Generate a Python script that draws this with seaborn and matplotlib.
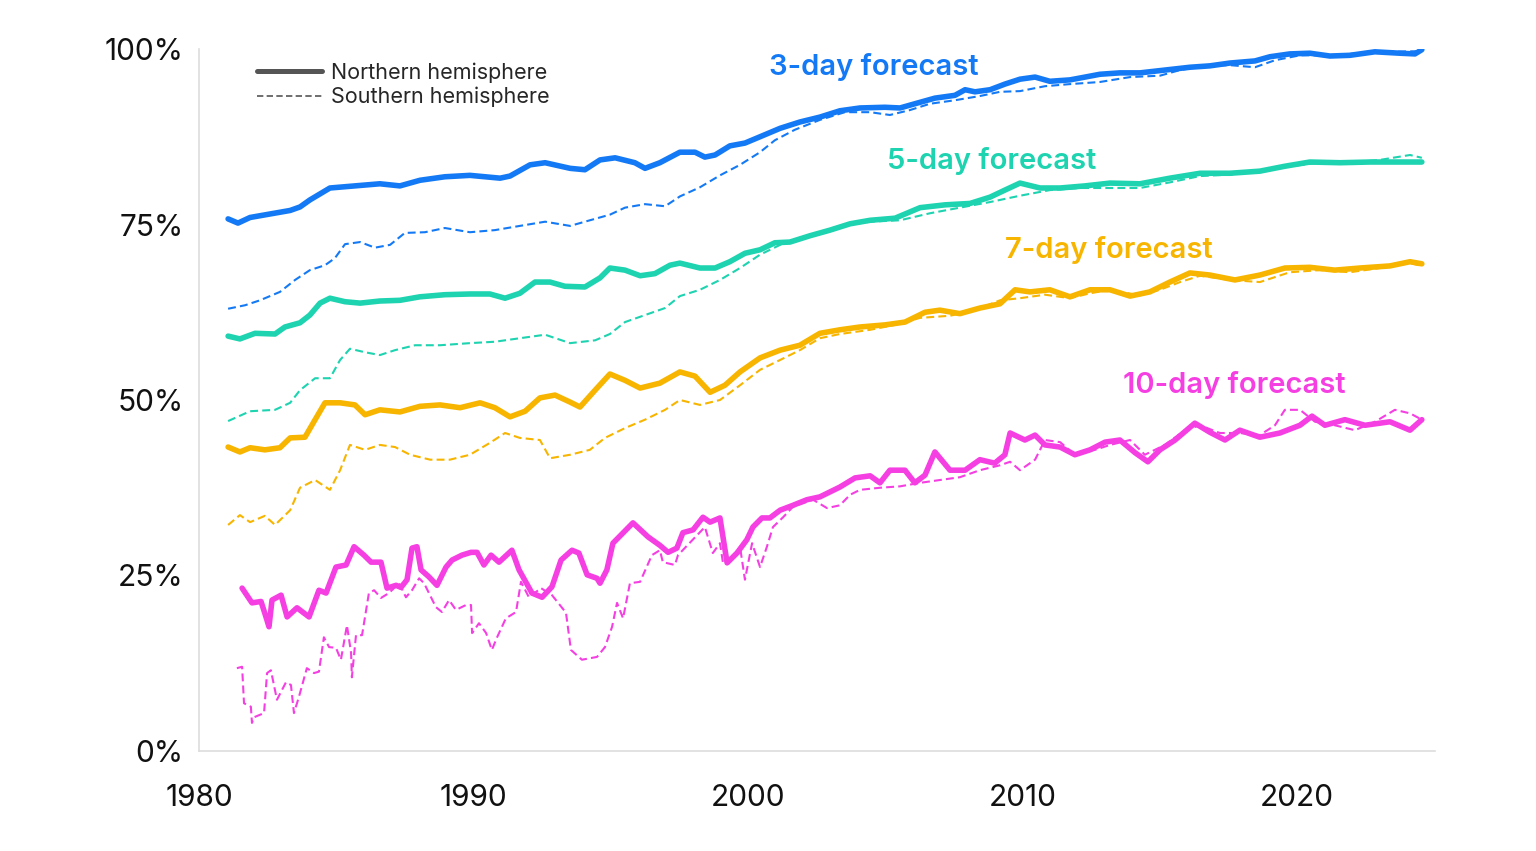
import numpy as np
import pandas as pd
import matplotlib
matplotlib.use("Agg")
import matplotlib.pyplot as plt
from matplotlib.lines import Line2D
import seaborn as sns

# ---------------- data: (year, % skill) ----------------
d3_nh = [(1981.06,75.8),(1981.42,75.2),(1981.86,76.0),(1982.59,76.5),(1983.32,77.0),(1983.68,77.5),(1984.04,78.5),(1984.77,80.2),(1985.68,80.5),(1986.59,80.8),(1987.32,80.5),(1988.05,81.3),(1988.96,81.8),(1989.87,82.0),(1990.97,81.6),(1991.33,81.9),(1992.06,83.5),(1992.61,83.8),(1993.52,83.0),(1994.06,82.8),(1994.61,84.2),(1995.16,84.5),(1995.88,83.8),(1996.25,83.0),(1996.79,83.8),(1997.52,85.3),(1998.07,85.3),(1998.43,84.6),(1998.80,84.9),(1999.34,86.2),(1999.89,86.6),(2000.44,87.5),(2001.17,88.7),(2001.89,89.6),(2002.62,90.3),(2003.35,91.2),(2004.08,91.6),(2004.99,91.7),(2005.54,91.6),(2006.08,92.2),(2006.81,93.0),(2007.54,93.4),(2007.91,94.2),(2008.27,93.9),(2008.82,94.2),(2009.36,95.0),(2009.91,95.7),(2010.46,96.0),(2011.00,95.4),(2011.73,95.6),(2012.28,96.0),(2012.82,96.4),(2013.55,96.6),(2014.28,96.6),(2015.19,97.0),(2016.10,97.4),(2016.83,97.6),(2017.56,98.0),(2018.47,98.3),(2019.02,98.9),(2019.74,99.3),(2020.47,99.4),(2021.20,99.0),(2021.93,99.1),(2022.84,99.6),(2023.75,99.4),(2024.30,99.3),(2024.55,99.9)]

d3_sh = [(1981.06,63.0),(1981.68,63.5),(1982.22,64.2),(1982.95,65.4),(1983.50,67.1),(1984.04,68.5),(1984.59,69.2),(1984.95,70.2),(1985.32,72.2),(1985.87,72.5),(1986.41,71.7),(1986.96,72.1),(1987.50,73.8),(1988.23,73.9),(1988.96,74.5),(1989.87,73.9),(1990.78,74.2),(1991.69,74.8),(1992.61,75.4),(1993.52,74.8),(1994.24,75.6),(1994.97,76.4),(1995.52,77.4),(1996.25,77.9),(1996.98,77.6),(1997.52,79.0),(1998.25,80.3),(1998.98,82.0),(1999.71,83.5),(2000.44,85.3),(2000.98,87.0),(2001.71,88.5),(2002.62,89.9),(2003.53,91.0),(2004.45,91.0),(2005.17,90.6),(2005.90,91.3),(2006.63,92.2),(2007.54,92.7),(2008.45,93.3),(2009.18,93.9),(2009.91,94.0),(2010.82,94.7),(2011.73,95.0),(2012.82,95.3),(2013.92,96.0),(2015.01,96.2),(2015.74,97.0),(2016.65,97.6),(2017.56,97.7),(2018.47,97.4),(2019.20,98.4),(2020.11,99.1),(2021.20,99.1),(2022.29,99.4),(2023.39,99.6),(2024.55,99.7)]

d5_nh = [(1981.06,59.1),(1981.49,58.7),(1982.04,59.5),(1982.77,59.4),(1983.13,60.4),(1983.68,61.0),(1984.04,62.1),(1984.41,63.8),(1984.77,64.5),(1985.32,64.0),(1985.87,63.8),(1986.59,64.1),(1987.32,64.2),(1988.05,64.7),(1988.96,65.0),(1989.87,65.1),(1990.60,65.1),(1991.15,64.5),(1991.69,65.2),(1992.24,66.8),(1992.79,66.8),(1993.33,66.2),(1994.06,66.1),(1994.61,67.4),(1994.97,68.8),(1995.52,68.5),(1996.07,67.7),(1996.61,68.0),(1997.16,69.2),(1997.52,69.5),(1998.25,68.8),(1998.80,68.8),(1999.34,69.7),(1999.89,70.9),(2000.44,71.4),(2000.98,72.4),(2001.53,72.5),(2002.26,73.4),(2002.99,74.2),(2003.72,75.1),(2004.45,75.6),(2005.36,75.9),(2006.27,77.4),(2007.18,77.8),(2008.09,78.0),(2008.82,78.9),(2009.36,79.9),(2009.91,80.9),(2010.64,80.2),(2011.37,80.2),(2012.28,80.5),(2013.19,80.9),(2014.28,80.8),(2015.37,81.6),(2016.47,82.3),(2017.56,82.3),(2018.65,82.6),(2019.56,83.3),(2020.47,83.9),(2021.57,83.8),(2022.66,83.9),(2023.75,83.9),(2024.55,83.9)]

d5_sh = [(1981.06,47.0),(1981.86,48.4),(1982.77,48.6),(1983.32,49.6),(1983.68,51.4),(1984.23,53.1),(1984.77,53.1),(1985.14,55.7),(1985.50,57.3),(1986.05,56.8),(1986.59,56.4),(1987.14,57.1),(1987.87,57.8),(1988.78,57.8),(1989.87,58.1),(1990.78,58.3),(1991.69,58.8),(1992.61,59.3),(1993.52,58.1),(1994.43,58.5),(1994.97,59.4),(1995.52,61.1),(1996.25,62.1),(1996.98,63.1),(1997.52,64.8),(1998.25,65.7),(1998.98,67.1),(1999.71,68.8),(2000.44,70.7),(2001.17,72.1),(2001.89,73.1),(2002.62,73.9),(2003.35,74.8),(2004.45,75.4),(2005.54,75.6),(2006.63,76.6),(2007.72,77.4),(2008.82,78.2),(2009.91,79.1),(2011.00,79.9),(2012.10,80.2),(2013.19,80.2),(2014.28,80.2),(2015.37,81.0),(2016.47,81.9),(2017.56,82.1),(2018.65,82.5),(2019.74,83.3),(2020.84,83.8),(2021.93,83.8),(2023.02,84.2),(2024.12,84.9),(2024.55,84.5)]

d7_nh = [(1981.06,43.3),(1981.49,42.6),(1981.86,43.2),(1982.40,42.9),(1982.95,43.2),(1983.32,44.6),(1983.86,44.7),(1984.23,47.2),(1984.59,49.6),(1985.14,49.6),(1985.68,49.3),(1986.05,47.9),(1986.59,48.6),(1987.32,48.3),(1988.05,49.1),(1988.78,49.3),(1989.51,48.9),(1990.24,49.6),(1990.78,48.9),(1991.33,47.6),(1991.88,48.4),(1992.42,50.3),(1992.97,50.7),(1993.52,49.7),(1993.88,49.0),(1994.43,51.4),(1994.97,53.7),(1995.52,52.8),(1996.07,51.7),(1996.79,52.4),(1997.52,54.0),(1998.07,53.4),(1998.62,51.1),(1999.16,52.1),(1999.71,54.0),(2000.44,56.0),(2001.17,57.1),(2001.89,57.8),(2002.62,59.5),(2003.35,60.0),(2004.08,60.4),(2004.99,60.7),(2005.72,61.1),(2006.45,62.5),(2006.99,62.8),(2007.72,62.3),(2008.45,63.1),(2009.18,63.7),(2009.73,65.7),(2010.27,65.4),(2011.00,65.7),(2011.73,64.7),(2012.46,65.7),(2013.19,65.7),(2013.92,64.8),(2014.64,65.4),(2015.37,66.8),(2016.10,68.1),(2016.83,67.8),(2017.74,67.1),(2018.65,67.8),(2019.56,68.8),(2020.47,68.9),(2021.38,68.5),(2022.29,68.8),(2023.39,69.1),(2024.12,69.7),(2024.55,69.4)]

d7_sh = [(1981.06,32.2),(1981.49,33.6),(1981.86,32.6),(1982.40,33.5),(1982.77,32.2),(1983.32,34.3),(1983.68,37.5),(1984.23,38.6),(1984.77,37.2),(1985.14,40.0),(1985.50,43.6),(1986.05,42.9),(1986.59,43.6),(1987.14,43.3),(1987.69,42.2),(1988.42,41.5),(1989.14,41.5),(1989.87,42.2),(1990.60,43.9),(1991.15,45.3),(1991.69,44.6),(1992.42,44.3),(1992.79,41.7),(1993.52,42.2),(1994.24,42.9),(1994.79,44.6),(1995.52,46.0),(1996.25,47.2),(1996.98,48.6),(1997.52,50.0),(1998.25,49.3),(1998.98,50.0),(1999.71,52.1),(2000.44,54.3),(2001.17,55.7),(2001.89,57.1),(2002.62,58.8),(2003.35,59.4),(2004.45,60.0),(2005.36,60.7),(2006.27,61.7),(2007.36,62.0),(2008.27,62.8),(2009.18,64.2),(2009.91,64.5),(2010.82,65.0),(2011.73,64.5),(2012.46,65.2),(2013.19,65.7),(2014.28,64.9),(2015.01,65.7),(2015.74,66.8),(2016.47,67.7),(2017.56,67.1),(2018.65,66.8),(2019.74,68.2),(2020.84,68.5),(2021.93,68.2),(2023.02,68.8),(2024.12,69.5),(2024.55,69.1)]

d10_nh = [(1981.57,23.2),(1981.93,21.1),(1982.26,21.3),(1982.44,19.1),(1982.55,17.7),(1982.66,21.5),(1982.99,22.2),(1983.21,19.1),(1983.57,20.4),(1984.01,19.1),(1984.37,22.9),(1984.63,22.5),(1984.99,26.2),(1985.36,26.5),(1985.65,29.1),(1986.01,27.9),(1986.27,26.9),(1986.63,26.9),(1986.85,23.2),(1987.18,23.6),(1987.36,23.3),(1987.58,24.4),(1987.76,28.9),(1987.94,29.1),(1988.09,25.8),(1988.38,24.8),(1988.67,23.6),(1989.00,26.2),(1989.22,27.2),(1989.58,27.9),(1989.91,28.3),(1990.13,28.3),(1990.38,26.5),(1990.64,27.9),(1990.93,26.9),(1991.40,28.6),(1991.66,25.8),(1992.13,22.5),(1992.50,21.9),(1992.86,23.4),(1993.19,27.2),(1993.59,28.6),(1993.84,28.2),(1994.14,25.1),(1994.50,24.6),(1994.61,23.9),(1994.86,25.8),(1995.08,29.6),(1995.81,32.5),(1996.36,30.5),(1996.79,29.3),(1997.09,28.3),(1997.41,28.9),(1997.63,31.1),(1998.00,31.5),(1998.36,33.3),(1998.62,32.6),(1998.98,33.2),(1999.24,26.8),(1999.60,28.2),(1999.96,30.1),(2000.18,31.9),(2000.51,33.2),(2000.80,33.2),(2001.17,34.3),(2001.64,35.0),(2002.15,35.8),(2002.62,36.2),(2003.35,37.6),(2003.90,38.9),(2004.45,39.2),(2004.81,38.2),(2005.17,40.0),(2005.72,40.0),(2006.08,38.2),(2006.45,39.3),(2006.81,42.6),(2007.36,40.0),(2007.91,40.0),(2008.45,41.5),(2008.99,41.0),(2009.36,42.2),(2009.55,45.3),(2010.09,44.3),(2010.46,45.0),(2010.82,43.6),(2011.37,43.3),(2011.91,42.2),(2012.46,42.9),(2013.01,44.0),(2013.55,44.3),(2014.10,42.5),(2014.57,41.2),(2015.01,42.9),(2015.56,44.3),(2016.28,46.7),(2016.83,45.4),(2017.38,44.3),(2017.92,45.7),(2018.65,44.7),(2019.38,45.3),(2020.11,46.4),(2020.55,47.7),(2021.02,46.4),(2021.75,47.2),(2022.48,46.4),(2023.39,46.9),(2024.12,45.7),(2024.55,47.2)]

d10_sh = [(1981.38,11.8),(1981.57,12.0),(1981.64,6.8),(1981.89,6.3),(1981.93,4.0),(1982.00,4.8),(1982.37,5.4),(1982.48,11.1),(1982.62,11.5),(1982.84,7.3),(1983.17,9.8),(1983.35,9.4),(1983.46,5.4),(1983.64,7.7),(1983.93,11.8),(1984.19,11.1),(1984.37,11.3),(1984.55,16.2),(1984.74,14.8),(1984.99,14.7),(1985.17,13.0),(1985.39,17.9),(1985.54,14.0),(1985.57,10.5),(1985.72,16.5),(1985.94,16.5),(1986.19,22.5),(1986.38,22.9),(1986.63,21.8),(1986.92,22.5),(1987.29,23.9),(1987.54,21.9),(1987.76,22.9),(1988.02,24.6),(1988.20,23.9),(1988.63,20.5),(1988.85,19.8),(1989.11,21.5),(1989.36,20.1),(1989.73,20.8),(1989.91,20.8),(1989.95,16.8),(1990.20,18.2),(1990.46,16.8),(1990.67,14.4),(1990.86,16.2),(1991.18,18.9),(1991.55,19.8),(1991.73,24.1),(1992.02,21.9),(1992.46,23.2),(1992.86,22.2),(1993.37,19.7),(1993.55,14.4),(1993.95,13.0),(1994.50,13.4),(1994.79,14.8),(1995.05,17.7),(1995.23,21.1),(1995.45,18.9),(1995.70,23.9),(1996.07,24.1),(1996.50,27.9),(1996.79,28.6),(1996.90,26.9),(1997.34,26.5),(1997.45,27.9),(1998.43,31.9),(1998.72,28.2),(1998.98,29.6),(1999.09,26.8),(1999.60,28.2),(1999.71,29.1),(1999.89,24.4),(2000.15,29.6),(2000.44,26.2),(2000.69,29.1),(2000.91,31.9),(2001.28,33.3),(2001.64,34.8),(2002.37,35.8),(2002.88,34.6),(2003.35,35.0),(2003.72,36.5),(2004.08,37.2),(2004.81,37.5),(2005.54,37.7),(2006.27,38.2),(2006.99,38.6),(2007.72,39.0),(2008.45,40.0),(2009.18,40.7),(2009.55,41.2),(2009.91,40.0),(2010.46,41.5),(2010.82,44.3),(2011.37,44.0),(2011.91,42.2),(2012.64,42.9),(2013.19,43.6),(2013.92,44.3),(2014.46,42.2),(2015.19,43.6),(2015.92,45.7),(2016.47,46.4),(2017.19,45.3),(2017.92,45.3),(2018.65,45.0),(2019.20,46.4),(2019.56,48.6),(2020.11,48.6),(2020.66,46.9),(2021.38,46.4),(2022.11,45.7),(2022.84,46.9),(2023.57,48.6),(2024.12,48.1),(2024.55,47.2)]

forecasts = ["3-day forecast", "5-day forecast", "7-day forecast", "10-day forecast"]
hemispheres = ["Northern hemisphere", "Southern hemisphere"]
colors = ["#1479f5", "#1dd3b0", "#f7b500", "#f53fe2"]
label_x = [2000.77, 2005.06, 2009.36, 2013.66]
label_y = [97.4, 84.0, 71.3, 52.2]

series = {
    ("3-day forecast", "Northern hemisphere"): d3_nh,
    ("3-day forecast", "Southern hemisphere"): d3_sh,
    ("5-day forecast", "Northern hemisphere"): d5_nh,
    ("5-day forecast", "Southern hemisphere"): d5_sh,
    ("7-day forecast", "Northern hemisphere"): d7_nh,
    ("7-day forecast", "Southern hemisphere"): d7_sh,
    ("10-day forecast", "Northern hemisphere"): d10_nh,
    ("10-day forecast", "Southern hemisphere"): d10_sh,
}

x_ticks = [1980, 1990, 2000, 2010, 2020]
y_ticks = [0, 25, 50, 75, 100]
y_tick_labels = ["0%", "25%", "50%", "75%", "100%"]

# ---------------- plot ----------------
sns.set_theme(style="white")
plt.rcParams["font.family"] = ["Inter", "DejaVu Sans"]

fig = plt.figure(figsize=(15.36, 8.51), dpi=100)
ax = fig.add_axes([199/1536, 1-751/851, (1435-199)/1536, (751-49)/851])

DASH = (0, (3.8, 2))
for (fc, hemi), pts in series.items():
    xs, ys = zip(*pts)
    df = pd.DataFrame({"year": xs, "skill": ys})
    c = colors[forecasts.index(fc)]
    if hemi == "Northern hemisphere":
        sns.lineplot(data=df, x="year", y="skill", ax=ax, color=c, lw=4.0,
                     estimator=None, sort=False, zorder=3,
                     solid_joinstyle="round", solid_capstyle="round")
    else:
        sns.lineplot(data=df, x="year", y="skill", ax=ax, color=c, lw=1.5,
                     estimator=None, sort=False, zorder=2, linestyle=DASH)

ax.set_xlim(1980, 2025.03)
ax.set_ylim(0, 100)
ax.set_xticks(x_ticks)
ax.set_xticklabels([str(t) for t in x_ticks])
ax.set_yticks(y_ticks)
ax.set_yticklabels(y_tick_labels)
ax.tick_params(axis="both", length=0, labelsize=21.5, colors="#111111")
ax.tick_params(axis="x", pad=24)
ax.tick_params(axis="y", pad=11)
ax.set_xlabel("")
ax.set_ylabel("")
for s in ["top", "right"]:
    ax.spines[s].set_visible(False)
for s in ["left", "bottom"]:
    ax.spines[s].set_color("#dddddd")
    ax.spines[s].set_linewidth(1.2)

for fc, c, lx, ly in zip(forecasts, colors, label_x, label_y):
    ax.text(lx, ly, fc, color=c, fontsize=21, fontweight="semibold",
            ha="left", va="center")

handles = [Line2D([0], [0], color="#555555", lw=3.6),
           Line2D([0], [0], color="#555555", lw=1.2, linestyle=DASH)]
ax.legend(handles, hemispheres,
          loc="upper left", bbox_to_anchor=(0.040, 0.993), frameon=False,
          fontsize=15.5, handlelength=3.0, handletextpad=0.45,
          labelspacing=0.18, borderaxespad=0)

fig.savefig("out.png", dpi=100, facecolor="white")
